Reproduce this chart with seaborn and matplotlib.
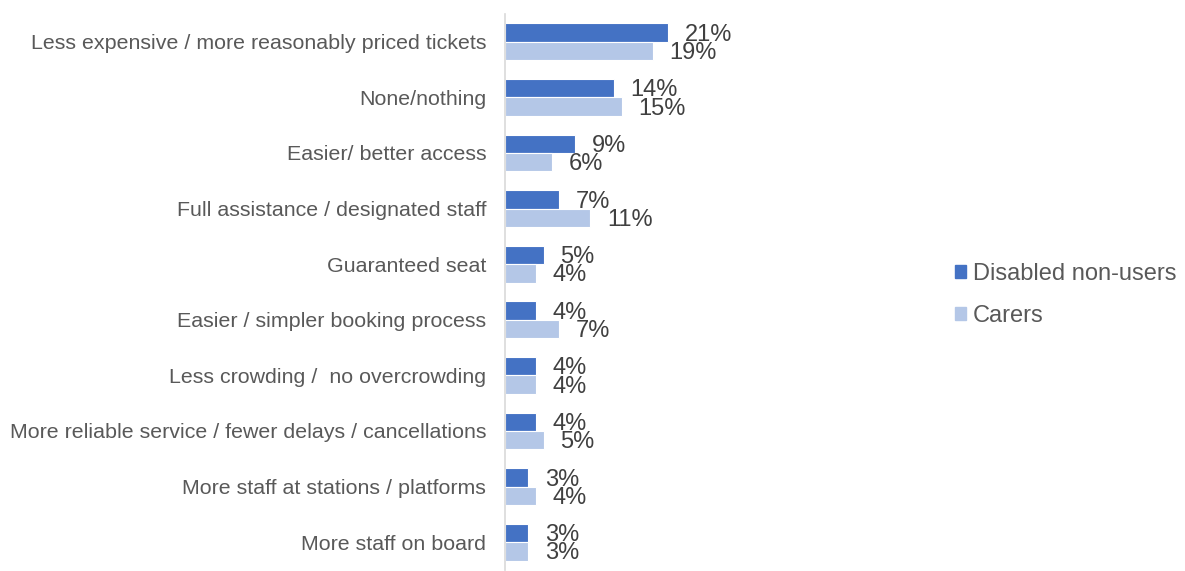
import matplotlib
matplotlib.use("Agg")
import matplotlib.pyplot as plt
import seaborn as sns
import pandas as pd

categories = [
    "Less expensive / more reasonably priced tickets",
    "None/nothing",
    "Easier/ better access",
    "Full assistance / designated staff",
    "Guaranteed seat",
    "Easier / simpler booking process",
    "Less crowding /  no overcrowding",
    "More reliable service / fewer delays / cancellations",
    "More staff at stations / platforms",
    "More staff on board",
]
series_names = ["Disabled non-users", "Carers"]
disabled_non_users = [21, 14, 9, 7, 5, 4, 4, 4, 3, 3]
carers = [19, 15, 6, 11, 4, 7, 4, 5, 4, 3]
colors = ["#4472C4", "#B4C7E7"]

df = pd.DataFrame({
    "category": categories * 2,
    "group": [series_names[0]] * len(categories) + [series_names[1]] * len(categories),
    "value": disabled_non_users + carers,
})

sns.set_theme(style="white")
plt.rcParams["font.family"] = ["Liberation Sans", "DejaVu Sans"]

fig = plt.figure(figsize=(11.85, 5.71), dpi=100)
ax = fig.add_axes([505 / 1185, 1 - 570 / 571, 233 / 1185, 556 / 571])

sns.barplot(
    data=df, y="category", x="value", hue="group", orient="h",
    order=categories, hue_order=series_names, palette=colors, saturation=1,
    width=0.66, edgecolor="white", linewidth=0.8, ax=ax, legend=False,
)

ax.set_xlim(0, 30)
ax.set_ylim(len(categories) - 0.5, -0.5)
ax.set_xlabel("")
ax.set_ylabel("")
ax.set_xticks([])

# category labels without tick marks; tick marks sit between categories
ax.set_yticks(range(len(categories)))
ax.set_yticklabels(categories, fontsize=15.4, color="#595959")
ax.tick_params(axis="y", which="major", length=0, pad=13.5)
ax.set_yticks([i - 0.5 for i in range(len(categories) + 1)], minor=True)
ax.tick_params(axis="y", which="minor", length=6, width=1, color="#D9D9D9",
               direction="out")

for side in ["top", "right", "bottom"]:
    ax.spines[side].set_visible(False)
ax.spines["left"].set_color("#D9D9D9")
ax.spines["left"].set_linewidth(1.2)

# value labels just past the end of each bar
for container in ax.containers:
    for patch, v in zip(container.patches, container.datavalues):
        ax.annotate(f"{v:.0f}%",
                    xy=(patch.get_x() + patch.get_width(),
                        patch.get_y() + patch.get_height() / 2),
                    xytext=(12, -1.5), textcoords="offset points",
                    ha="left", va="center", fontsize=17, color="#404040")

handles = [plt.Rectangle((0, 0), 1, 1, color=c) for c in colors]
fig.legend(handles, series_names, loc="center left",
           bbox_to_anchor=(955 / 1185, 1 - 295 / 571), frameon=False,
           borderpad=0, borderaxespad=0,
           fontsize=17, labelcolor="#595959", handlelength=0.45,
           handleheight=0.45, handletextpad=0.3, labelspacing=0.85)

fig.savefig("out.png", dpi=100)
